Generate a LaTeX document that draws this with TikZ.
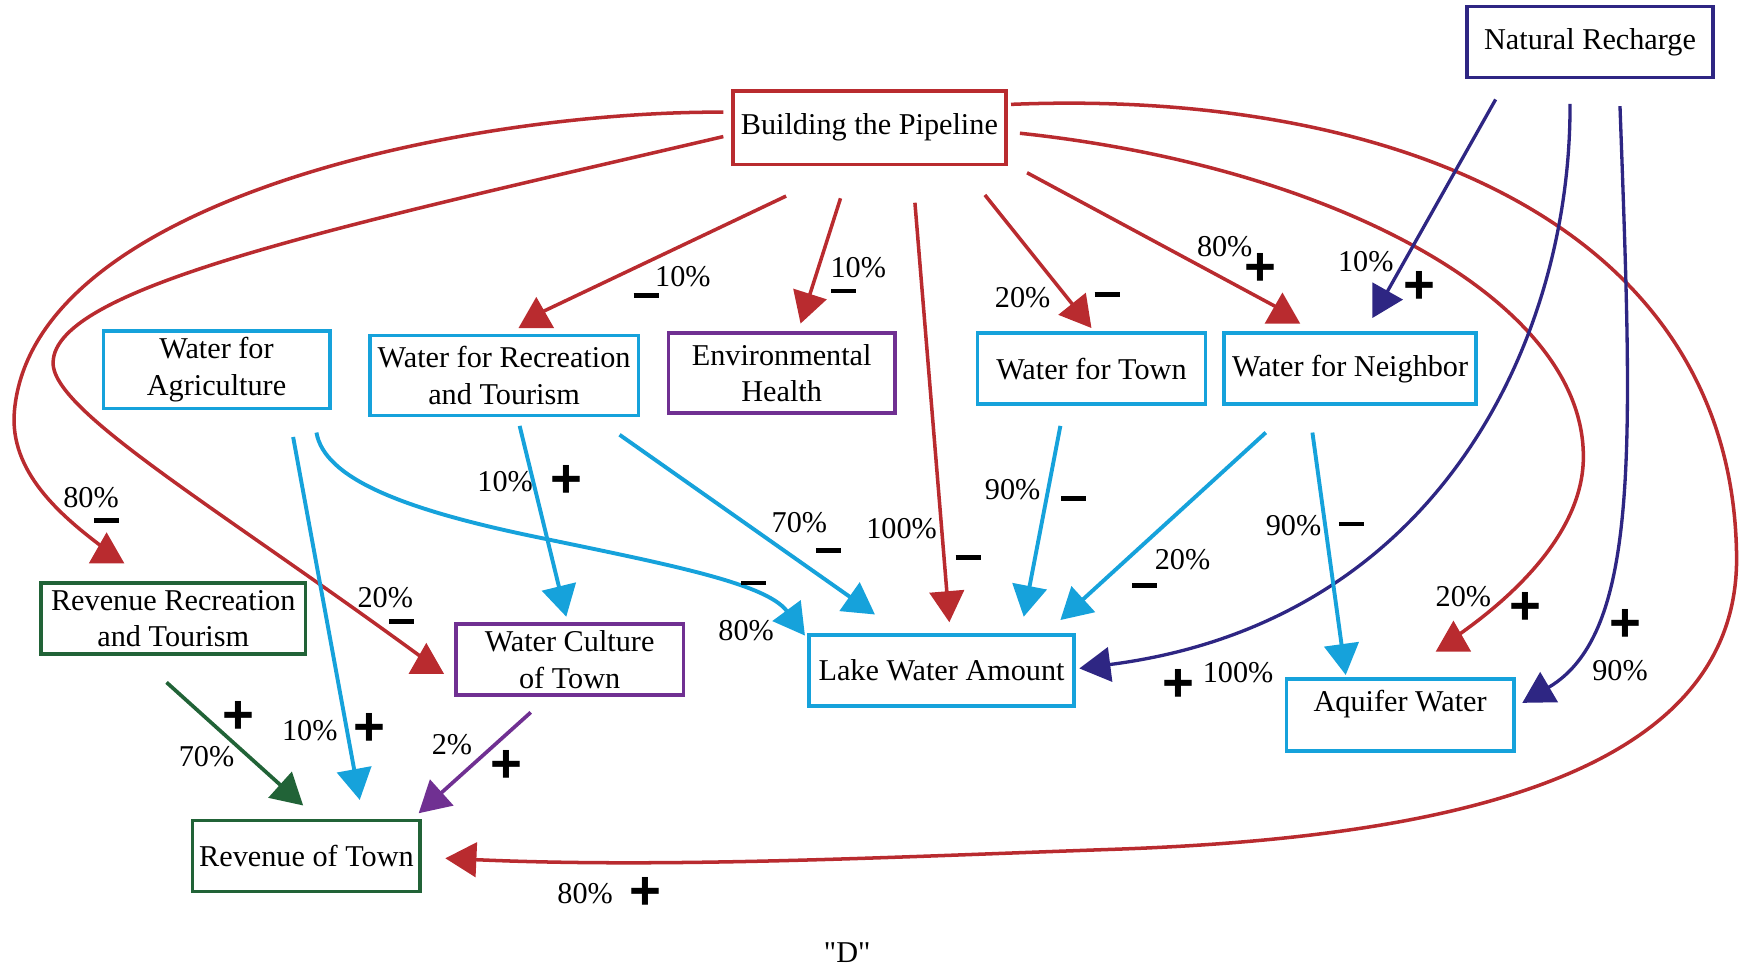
\documentclass[tikz,border=0pt]{standalone}
\usepackage{fontspec}
\setmainfont{Liberation Serif}
\setsansfont{Liberation Sans}
\newfontfamily\qtfont{Liberation Serif}[Ligatures=TeXOff]
\usetikzlibrary{arrows.meta}

\definecolor{cred}{RGB}{185,43,47}
\definecolor{ccyan}{RGB}{22,162,219}
\definecolor{cnavy}{RGB}{46,38,131}
\definecolor{cpurp}{RGB}{112,48,146}
\definecolor{cgreen}{RGB}{33,99,55}

\newcommand{\mn}{\rule{0.45cm}{0.085cm}}

\begin{document}
\begin{tikzpicture}[x=0.02cm, y=-0.02cm,
    >={Triangle[length=0.56cm, width=0.62cm]},
    font=\fontsize{15.5}{18.7}\selectfont,
    % all lengths in the picture are in pixels of the sketch (y runs down)
    box/.style={draw, line width=1.8pt, align=center, inner sep=2pt,
                minimum height=1.28cm},
    redbox/.style={box, draw=cred},
    cyanbox/.style={box, draw=ccyan},
    navybox/.style={box, draw=cnavy},
    purpbox/.style={box, draw=cpurp},
    greenbox/.style={box, draw=cgreen},
    redln/.style={draw=cred, line width=1.8pt},
    redar/.style={redln, ->},
    cyanar/.style={draw=ccyan, line width=2pt, ->},
    navyar/.style={draw=cnavy, line width=1.7pt, ->},
    purpar/.style={draw=cpurp, line width=1.9pt, ->},
    greenar/.style={draw=cgreen, line width=1.9pt, ->},
    pct/.style={inner sep=1pt},
    sgn/.style={font=\sffamily\bfseries\fontsize{28}{28}\selectfont, inner sep=0pt},
    % the flat-bottomed red heads of the sketch
    uptip/.pic={\fill[cred] (-16,12) -- (0,-16) -- (16,12) -- cycle;}]

  \useasboundingbox (0,0) rectangle (1568,876);

  % ---- the boxes
  \node[redbox, minimum width=4.92cm, minimum height=1.32cm] (pipe) at (783,115) {Building the Pipeline};
  \node[navybox, minimum width=4.44cm] (nrec) at (1432,38) {Natural Recharge};
  \node[cyanbox, minimum width=4.08cm, minimum height=1.40cm] (wagr) at (195,333) {Water for\\Agriculture};
  \node[cyanbox, minimum width=4.84cm, minimum height=1.44cm] (wrec) at (454,338) {Water for Recreation\\and Tourism};
  \node[purpbox, minimum width=4.08cm, minimum height=1.44cm] (envh) at (704,336) {Environmental\\Health};
  \node[cyanbox, minimum width=4.10cm] (wtow) at (983,332) {Water for Town};
  \node[cyanbox, minimum width=4.54cm] (wnei) at (1216,332) {Water for Neighbor};
  \node[greenbox, minimum width=4.76cm] (rrec) at (156,557) {Revenue Recreation\\and Tourism};
  \node[purpbox, minimum width=4.10cm] (wcul) at (513,594) {Water Culture\\of Town};
  \node[cyanbox, minimum width=4.78cm] (lake) at (848,604) {Lake Water Amount};
  \node[cyanbox, minimum width=4.10cm, minimum height=0pt, inner ysep=0pt,
        text height=0.58cm, text depth=0.72cm] (aqui) at (1261,644) {Aquifer Water};
  \node[greenbox, minimum width=4.10cm] (rtow) at (276,771) {Revenue of Town};

  % ---- out of the pipeline
  \draw[redln] ([shift={(-75,27)}]pipe.south) -- ([shift={(29,-17)}]wrec.north) pic{uptip};
  \draw[redar] ([shift={(-26,29)}]pipe.south) -- ([shift={(17,-7)}]envh.north);
  \draw[redar] ([shift={(41,33)}]pipe.south) -- ([shift={(7,-10)}]lake.north);
  \draw[redar] ([shift={(104,26)}]pipe.south) -- ([shift={(0,-3)}]wtow.north);
  \draw[redln] ([shift={(142,6)}]pipe.south) -- ([shift={(-61,-19)}]wnei.north) pic{uptip};
  \draw[redln] ([shift={(-7,-14)}]pipe.west) .. controls (420,100) and (30,180) .. (13,370)
    .. controls (8,425) and (55,465) .. ([shift={(-60,-28)}]rrec.north) pic{uptip};
  \draw[redln] ([shift={(-7,8)}]pipe.west) .. controls (300,205) and (40,260) .. (48,330)
    .. controls (55,375) and (200,460) .. ([shift={(-25,1)}]wcul.west) pic{uptip};
  \draw[redln] ([shift={(11,5)}]pipe.east) .. controls (1200,150) and (1425,270) .. (1426,410)
    .. controls (1427,480) and (1360,540) .. ([shift={(48,-35)}]aqui.north) pic{uptip};
  \draw[redar] ([shift={(3,-21)}]pipe.east) .. controls (1250,80) and (1560,200) .. (1564,500)
    .. controls (1567,700) and (1300,755) .. (1000,765)
    .. controls (800,772) and (600,782) .. ([shift={(21,2)}]rtow.east);

  % ---- out of the natural recharge
  \draw[navyar] ([shift={(-85,18)}]nrec.south) -- ([shift={(20,-12)}]wnei.north);
  \draw[navyar] ([shift={(-18,22)}]nrec.south) .. controls (1415,300) and (1300,560) .. ([shift={(3,-2)}]lake.east);
  \draw[navyar] ([shift={(27,24)}]nrec.south) .. controls (1470,400) and (1478,570) .. ([shift={(6,-11)}]aqui.east);

  % ---- water uses
  \draw[cyanar] ([shift={(69,24)}]wagr.south) -- ([shift={(48,-17)}]rtow.north);
  \draw[cyanar] ([shift={(90,20)}]wagr.south) .. controls (292,430) and (360,458) .. (480,483)
    .. controls (600,508) and (690,525) .. ([shift={(-2,2)}]lake.north west);
  \draw[cyanar] ([shift={(14,8)}]wrec.south) -- ([shift={(-3,-5)}]wcul.north);
  \draw[cyanar] ([shift={(104,16)}]wrec.south) -- ([shift={(-60,-17)}]lake.north);
  \draw[cyanar] ([shift={(-28,18)}]wtow.south) -- ([shift={(74,-15)}]lake.north);
  \draw[cyanar] ([shift={(-76,24)}]wnei.south) -- ([shift={(107,-12)}]lake.north);
  \draw[cyanar] ([shift={(-34,24)}]wnei.south) -- ([shift={(-49,-2)}]aqui.north);

  % ---- into the revenue of the town
  \draw[greenar] ([shift={(-6,24)}]rrec.south) -- ([shift={(-3,-12)}]rtow.north);
  \draw[purpar] ([shift={(-35,14)}]wcul.south) -- ([shift={(-3,-5)}]rtow.north east);

  % ---- shares and signs
  \node[pct] (p1) at (615,249) {10\%};   \node[sgn] (s1) at (582,266) {\mn};
  \node[pct] (p2) at (773,241) {10\%};   \node[sgn] (s2) at (760,262) {\mn};
  \node[pct] (p3) at (812,476) {100\%};  \node[sgn] (s3) at (872,502) {\mn};
  \node[pct] (p4) at (921,268) {20\%};   \node[sgn] (s4) at (997,265) {\mn};
  \node[pct] (p5) at (1103,222) {80\%};  \node[sgn] (s5) at (1135,243) {+};
  \node[pct] (p6) at (1230,236) {10\%};  \node[sgn] (s6) at (1278,259) {+};
  \node[pct] (p7) at (82,448) {80\%};    \node[sgn] (s7) at (96,469) {\mn};
  \node[pct] (p8) at (347,538) {20\%};   \node[sgn] (s8) at (362,560) {\mn};
  \node[pct] (p9) at (455,434) {10\%};   \node[sgn] (s9) at (510,434) {+};
  \node[pct] (p10) at (720,471) {70\%};  \node[sgn] (s10) at (746,496) {\mn};
  \node[pct] (p11) at (912,441) {90\%};  \node[sgn] (s11) at (967,449) {\mn};
  \node[pct] (p12) at (1065,504) {20\%}; \node[sgn] (s12) at (1031,527) {\mn};
  \node[pct] (p13) at (1165,473) {90\%}; \node[sgn] (s13) at (1217,472) {\mn};
  \node[pct] (p14) at (672,568) {80\%};  \node[sgn] (s14) at (679,525) {\mn};
  \node[pct] (p15) at (1115,606) {100\%}; \node[sgn] (s15) at (1061,617) {+};
  \node[pct] (p16) at (1318,537) {20\%}; \node[sgn] (s16) at (1374,548) {+};
  \node[pct] (p17) at (1459,604) {90\%}; \node[sgn] (s17) at (1464,563) {+};
  \node[pct] (p18) at (186,681) {70\%};  \node[sgn] (s18) at (215,646) {+};
  \node[pct] (p19) at (279,658) {10\%};  \node[sgn] (s19) at (333,657) {+};
  \node[pct] (p20) at (407,671) {2\%};   \node[sgn] (s20) at (456,690) {+};
  \node[pct] (p21) at (527,805) {80\%};  \node[sgn] (s21) at (581,805) {+};

  \node[pct, font=\qtfont\fontsize{15.5}{18.7}\selectfont] (cap) at (763,858) {"D"};
\end{tikzpicture}
\end{document}
